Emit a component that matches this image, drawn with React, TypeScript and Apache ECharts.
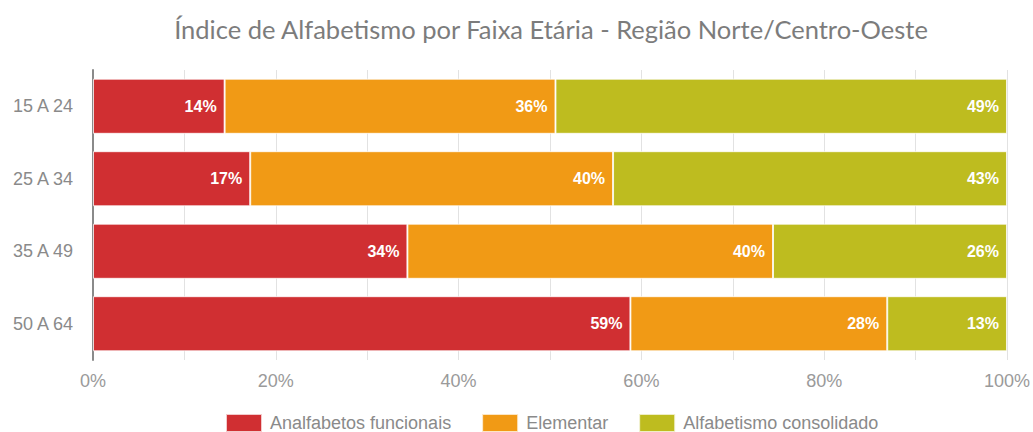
import React, { useEffect, useRef } from "react";
import * as echarts from "echarts";

const titleText = "Índice de Alfabetismo por Faixa Etária - Região Norte/Centro-Oeste";
const categories = ["15 A 24", "25 A 34", "35 A 49", "50 A 64"];
const seriesNames = ["Analfabetos funcionais", "Elementar", "Alfabetismo consolidado"];
const analfabetos = [14.4, 17.2, 34.4, 58.8];
const elementar = [36.2, 39.7, 40.0, 28.1];
const consolidado = [49.4, 43.1, 25.6, 13.1];
const colors = ["#d02f32", "#f19a15", "#bebc1f"];

const sans = "'Liberation Sans', Arial, sans-serif";

export default function App() {
  const ref = useRef<HTMLDivElement>(null);
  useEffect(() => {
    if (!ref.current) return;
    const chart = echarts.init(ref.current, null, { renderer: "svg" });
    const dataSets = [analfabetos, elementar, consolidado];
    chart.setOption({
      animation: false,
      title: {
        text: titleText,
        left: 546,
        textAlign: "center",
        top: 11,
        textStyle: {
          fontFamily: "Lato",
          fontSize: 25.5,
          fontWeight: "normal",
          color: "#7c7c7c",
        },
      },
      legend: {
        top: 408,
        left: 220,
        itemWidth: 36,
        itemHeight: 18,
        itemGap: 30,
        icon: "rect",
        textStyle: { fontFamily: sans, fontSize: 18, color: "#8a8a8a", padding: [0, 0, 0, 3] },
        data: seriesNames,
      },
      grid: { left: 93, right: 25, top: 70, bottom: 72, containLabel: false },
      xAxis: {
        type: "value",
        min: 0,
        max: 100,
        interval: 20,
        axisLine: { show: false },
        axisTick: { show: false },
        axisLabel: {
          formatter: (v: number) => v + "%",
          fontFamily: sans,
          fontSize: 18,
          color: "#9a9a9a",
          margin: 12,
        },
        splitLine: { show: true, lineStyle: { color: "#e2e2e2", width: 1 } },
        minorTick: { show: false, splitNumber: 2 },
        minorSplitLine: { show: true, lineStyle: { color: "#e2e2e2", width: 1 } },
      },
      yAxis: {
        type: "category",
        inverse: true,
        data: categories,
        axisLine: { show: true, lineStyle: { color: "#8a8a8a", width: 2 } },
        axisTick: { show: false },
        axisLabel: {
          fontFamily: sans,
          fontSize: 18,
          color: "#8a8a8a",
          margin: 20,
        },
      },
      series: seriesNames.map((name, i) => ({
        name,
        type: "bar",
        stack: "total",
        data: dataSets[i],
        barCategoryGap: "24%",
        itemStyle: { color: colors[i], borderColor: "rgba(255,255,255,0.75)", borderWidth: 1 },
        label: {
          show: true,
          position: "insideRight",
          distance: 8,
          formatter: (p: any) => Math.round(p.value) + "%",
          color: "#ffffff",
          fontFamily: sans,
          fontSize: 16,
          fontWeight: "bold",
        },
      })),
    });
    return () => chart.dispose();
  }, []);
  return (
    <div
      ref={ref}
      style={{ position: "fixed", left: 0, top: 0, width: 1033, height: 432, background: "#fff" }}
    />
  );
}
